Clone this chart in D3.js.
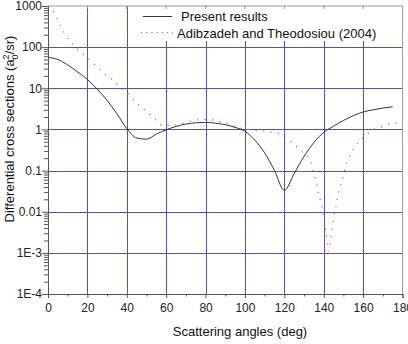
<!DOCTYPE html>
<html>
<head>
<meta charset="utf-8">
<script src="https://cdn.jsdelivr.net/npm/d3@7"></script>
<style>
  body { margin: 0; background: #fff; }
  svg { display: block; font-family: "Liberation Sans", Arial, sans-serif; }
</style>
</head>
<body>
<svg id="chart" width="408" height="344"></svg>
<script>
// Present results (solid line)
const presentAngles = [0, 5, 10, 15, 20, 25, 30, 35, 40, 45, 50, 55, 60, 65, 70, 75, 80, 85, 90,
  95, 100, 105, 110, 115, 120, 125, 130, 135, 140, 145, 150, 155, 160, 165, 170, 175];
const presentValues = [57, 50, 37, 25, 16.5, 9.5, 5.1, 2.4, 1.05, 0.62, 0.58, 0.77, 0.98, 1.18, 1.35, 1.45, 1.48, 1.42, 1.3,
  1.12, 0.9, 0.55, 0.27, 0.1, 0.033, 0.085, 0.22, 0.48, 0.85, 1.2, 1.65, 2.15, 2.65, 3.0, 3.3, 3.55];

// Adibzadeh and Theodosiou (2004) (dotted line)
const refAngles = [0, 3, 4.7, 6.6, 8.6, 11.2, 14.2, 17.8, 21.4, 25, 28.5, 32.5, 36, 40, 43.5, 47, 51, 54.5,
  58, 62, 66, 70, 73, 77, 81, 84.5, 88, 91.6, 95, 99, 102, 106, 110, 113, 117, 120.5, 124.5, 128,
  131.7, 133.7, 134.7, 135.7, 136.7, 137.3, 138.3, 139.3, 139.8, 140.3, 140.8, 141.4, 141.9, 142.4,
  143, 143.5, 144, 145, 145.5, 146.5, 147, 148, 149, 150, 151, 152, 154, 155.6, 159, 162.5, 166.2, 170, 173.6, 177.3];
const refValues = [1000, 710, 480, 310, 207, 140, 95, 68, 48, 33, 23, 16.6, 11, 8, 5.3, 3.6, 2.5, 1.74,
  1.26, 1.26, 1.32, 1.48, 1.62, 1.72, 1.74, 1.66, 1.5, 1.38, 1.18, 1.05, 1.0, 0.95, 0.91, 0.86, 0.8, 0.64, 0.46, 0.31,
  0.22, 0.15, 0.095, 0.063, 0.043, 0.027, 0.019, 0.0126, 0.0085, 0.0058, 0.0039, 0.0025, 0.0016, 0.0011,
  0.0014, 0.002, 0.0029, 0.0068, 0.01, 0.015, 0.022, 0.035, 0.051, 0.076, 0.12, 0.17, 0.26, 0.37, 0.56, 0.81, 1.04, 1.2, 1.38, 1.43];

const xTicks = [0, 20, 40, 60, 80, 100, 120, 140, 160, 180];
const yTicks = [1e-4, 1e-3, 0.01, 0.1, 1, 10, 100, 1000];
const yTickLabels = ["1E-4", "1E-3", "0.01", "0.1", "1", "10", "100", "1000"];

const plotLeft = 48, plotRight = 402.5, plotTop = 6, plotBottom = 294;
const gridColor = "#5050c8";
const refColor = "#e4487a";

const svg = d3.select("#chart");

const x = d3.scaleLinear().domain([0, 180]).range([plotLeft, plotRight]);
const y = d3.scaleLog().domain([1e-4, 1000]).range([plotBottom, plotTop]);

// grid
svg.append("g")
  .selectAll("line")
  .data(xTicks.slice(1, -1))
  .join("line")
  .attr("x1", d => Math.round(x(d)) + 0.5)
  .attr("x2", d => Math.round(x(d)) + 0.5)
  .attr("y1", plotTop)
  .attr("y2", plotBottom)
  .attr("stroke", gridColor)
  .attr("stroke-width", 1);

svg.append("g")
  .selectAll("line")
  .data(yTicks.slice(1, -1))
  .join("line")
  .attr("x1", plotLeft)
  .attr("x2", plotRight)
  .attr("y1", d => Math.round(y(d)) + 0.5)
  .attr("y2", d => Math.round(y(d)) + 0.5)
  .attr("stroke", gridColor)
  .attr("stroke-width", 1);

// legend background hides the grid behind it
svg.append("rect")
  .attr("x", 135).attr("y", plotTop + 1)
  .attr("width", plotRight - 136).attr("height", 34)
  .attr("fill", "#fff");

// curves
svg.append("clipPath").attr("id", "plotClip")
  .append("rect")
  .attr("x", plotLeft).attr("y", plotTop - 2)
  .attr("width", plotRight - plotLeft).attr("height", plotBottom - plotTop + 2);

const line = d3.line()
  .x(d => x(d[0]))
  .y(d => y(d[1]))
  .curve(d3.curveMonotoneX);

svg.append("path")
  .datum(refAngles.map((a, i) => [a, refValues[i]]))
  .attr("clip-path", "url(#plotClip)")
  .attr("d", line)
  .attr("fill", "none")
  .attr("stroke", refColor)
  .attr("stroke-width", 1.2)
  .attr("stroke-dasharray", "1.2,6.3");

svg.append("path")
  .datum(presentAngles.map((a, i) => [a, presentValues[i]]))
  .attr("d", line)
  .attr("fill", "none")
  .attr("stroke", "#333")
  .attr("stroke-width", 1);

// axes
const xAxis = d3.axisBottom(x)
  .tickValues(d3.range(0, 181, 10))
  .tickSize(4)
  .tickFormat(d => xTicks.includes(d) ? d : "");

const gx = svg.append("g")
  .attr("transform", `translate(0,${plotBottom})`)
  .call(xAxis);
gx.selectAll(".tick line").attr("y2", d => d % 20 === 0 ? 4 : 2.5);
gx.selectAll(".tick text").attr("dy", "0.9em").attr("font-size", 12).attr("fill", "#222");

const minorY = [];
for (let e = -4; e < 3; e++) {
  for (let m = 1; m < 10; m++) minorY.push(m * Math.pow(10, e));
}
minorY.push(1000);

const isMajor = d => yTicks.some(t => Math.abs(t - d) / t < 1e-6);

const yAxis = d3.axisLeft(y)
  .tickValues(minorY)
  .tickSize(4)
  .tickFormat(d => {
    const i = yTicks.findIndex(t => Math.abs(t - d) / t < 1e-6);
    return i >= 0 ? yTickLabels[i] : "";
  });

const gy = svg.append("g")
  .attr("transform", `translate(${plotLeft},0)`)
  .call(yAxis);
gy.selectAll(".tick line").attr("x2", d => isMajor(d) ? -6 : -4);
gy.selectAll(".tick text").attr("x", -6).attr("font-size", 12).attr("fill", "#222");

[gx, gy].forEach(g => {
  g.select(".domain").attr("stroke", "#555");
  g.selectAll(".tick line").attr("stroke", "#555");
});

// top and right frame
svg.append("line")
  .attr("x1", plotLeft).attr("x2", plotRight)
  .attr("y1", plotTop).attr("y2", plotTop)
  .attr("stroke", "#999");
svg.append("line")
  .attr("x1", plotRight).attr("x2", plotRight)
  .attr("y1", plotTop).attr("y2", plotBottom)
  .attr("stroke", "#999");
svg.append("g")
  .selectAll("line")
  .data(xTicks.slice(1, -1))
  .join("line")
  .attr("x1", d => x(d)).attr("x2", d => x(d))
  .attr("y1", plotTop).attr("y2", plotTop + 3)
  .attr("stroke", "#999");

// legend
svg.append("line")
  .attr("x1", 143).attr("x2", 172)
  .attr("y1", 16.5).attr("y2", 16.5)
  .attr("stroke", "#333");
svg.append("text")
  .attr("x", 181).attr("y", 21)
  .attr("font-size", 13).attr("fill", "#111")
  .text("Present results");

svg.append("line")
  .attr("x1", 141).attr("x2", 173)
  .attr("y1", 32.5).attr("y2", 32.5)
  .attr("stroke", refColor)
  .attr("stroke-width", 1.2)
  .attr("stroke-dasharray", "1.2,4");
svg.append("text")
  .attr("x", 177).attr("y", 37.5)
  .attr("font-size", 13).attr("fill", "#111")
  .text("Adibzadeh and Theodosiou (2004)");

// axis titles
svg.append("text")
  .attr("x", 240).attr("y", 336)
  .attr("text-anchor", "middle")
  .attr("font-size", 13).attr("fill", "#111")
  .text("Scattering angles (deg)");

const yt = svg.append("text")
  .attr("transform", "translate(14,129) rotate(-90)")
  .attr("text-anchor", "middle")
  .attr("font-size", 13).attr("fill", "#111");
yt.append("tspan").text("Differential cross sections (a");
yt.append("tspan").attr("font-size", 9).attr("dy", -5).text("2");
yt.append("tspan").attr("font-size", 9).attr("dx", -5).attr("dy", 9).text("0");
yt.append("tspan").attr("dy", -4).text("/sr)");
</script>
</body>
</html>
